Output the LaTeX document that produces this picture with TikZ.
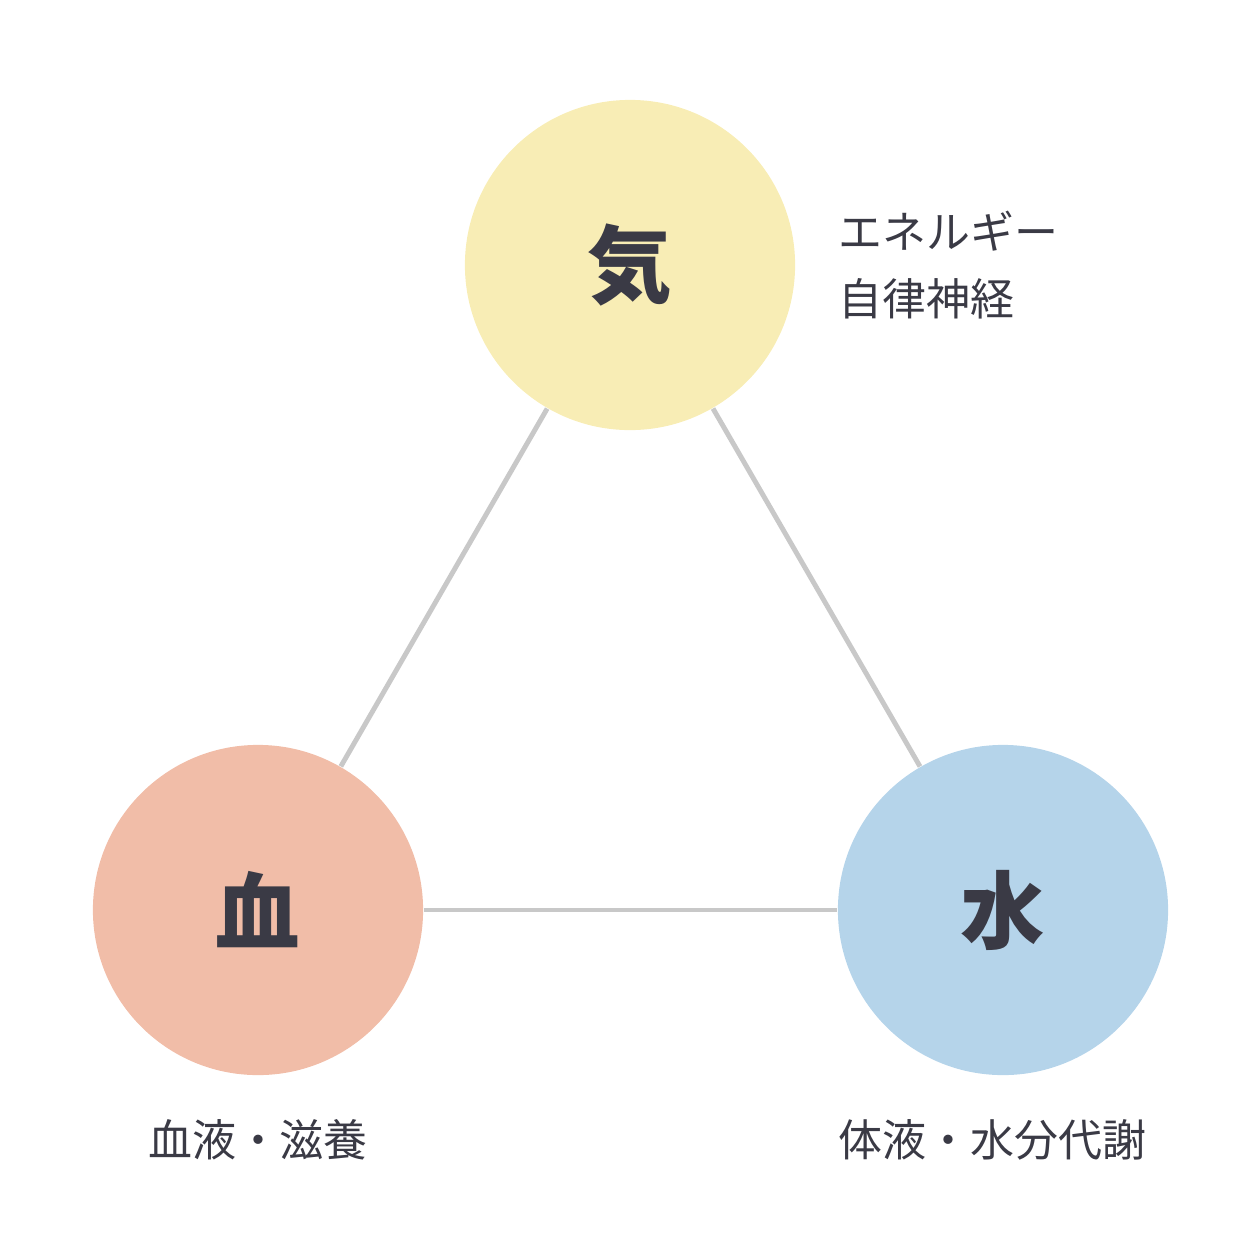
\documentclass[tikz,border=0pt]{standalone}
\usepackage{fontspec}
\setmainfont{Noto Sans CJK JP}
\usetikzlibrary{positioning}
\definecolor{kiyellow}{HTML}{F8EDB5}
\definecolor{ketsupink}{HTML}{F1BDA8}
\definecolor{suiblue}{HTML}{B5D4EA}
\definecolor{linegray}{HTML}{C8C8C8}
\definecolor{inkdark}{HTML}{3A3A45}
\begin{document}
\begin{tikzpicture}[x=0.01cm,y=-0.01cm]
			\tikzset{elem/.style={circle,minimum size=3.3cm,inner sep=0pt,text=inkdark,font=\fontsize{24}{28}\selectfont\bfseries},
			note/.style={text=inkdark,font=\fontsize{12.5}{19}\selectfont,inner sep=0pt,align=left}}
			\useasboundingbox (0,0) rectangle (1260,1260);
			\node [elem,fill=kiyellow] (ki) at (630,265) {気};
			\node [elem,fill=ketsupink] (ketsu) at (258,910) {血};
			\node [elem,fill=suiblue] (sui) at (1003,910) {水};
			\draw [linegray,line width=1.4pt] (ki) -- (ketsu);
			\draw [linegray,line width=1.4pt] (ki) -- (sui);
			\draw [linegray,line width=1.4pt] (ketsu) -- (sui);
			\node [note,anchor=west] (kinote) at (838,265) {エネルギー\\自律神経};
			\node [note] (ketsunote) at (258,1140) {血液・滋養};
			\node [note,anchor=west] (suinote) at (838,1140) {体液・水分代謝};
\end{tikzpicture}
\end{document}
